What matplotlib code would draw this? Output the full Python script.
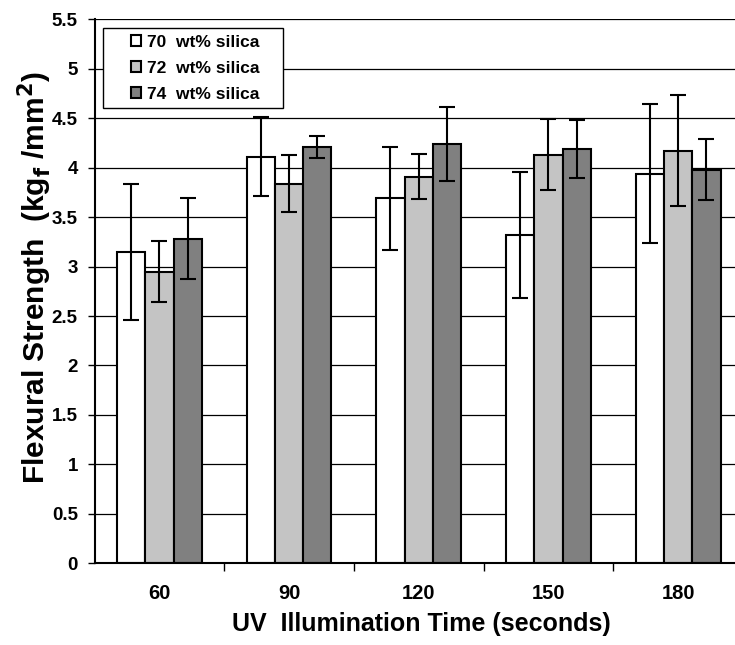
import numpy as np
import matplotlib
matplotlib.use("Agg")
from matplotlib import pyplot as plt
from matplotlib.patches import Rectangle

times = ["60", "90", "120", "150", "180"]
series = ["70  wt% silica", "72  wt% silica", "74  wt% silica"]
means = [
    [3.15, 4.11, 3.69, 3.32, 3.94],   # 70 wt%
    [2.95, 3.84, 3.91, 4.13, 4.17],   # 72 wt%
    [3.28, 4.21, 4.24, 4.19, 3.98],   # 74 wt%
]
errs = [
    [0.69, 0.40, 0.52, 0.64, 0.70],
    [0.31, 0.29, 0.23, 0.36, 0.56],
    [0.41, 0.11, 0.375, 0.29, 0.31],
]
colors = ["#ffffff", "#c4c4c4", "#808080"]

plt.rcParams["font.family"] = ["Liberation Sans", "DejaVu Sans"]
plt.rcParams["font.weight"] = "bold"
plt.rcParams["mathtext.default"] = "bf"

fig = plt.figure(figsize=(7.35, 6.45), dpi=100)
# the original plot area runs a little past the right edge of the image
ax = fig.add_axes([0.1286, 0.1267, 0.8823, 0.8433])

x = np.arange(len(times))
w = 0.218
for i in range(3):
    ax.bar(x + (i - 1) * w, means[i], w, color=colors[i], edgecolor="black",
           linewidth=1.5, label=series[i], zorder=2,
           yerr=errs[i], error_kw=dict(ecolor="black", elinewidth=1.5,
                                       capsize=6, capthick=1.5, zorder=3))

ax.set_ylim(0, 5.5)
ax.set_xlim(-0.5, len(times) - 0.5)
ax.set_yticks(np.arange(0, 5.51, 0.5))
ax.set_yticklabels(["0", "0.5", "1", "1.5", "2", "2.5", "3", "3.5", "4", "4.5", "5", "5.5"],
                   fontsize=13.5, fontweight="bold")
ax.yaxis.grid(True, color="black", linewidth=0.9, zorder=0)
ax.set_axisbelow(True)

ax.set_xticks(x)
ax.set_xticklabels(times, fontsize=14.5, fontweight="bold")
ax.tick_params(axis="x", which="major", length=0, pad=15)
ax.set_xticks(np.arange(0.5, len(times) - 0.5, 1), minor=True)
ax.tick_params(axis="x", which="minor", length=6, width=1, direction="out")
ax.tick_params(axis="y", length=5, width=1, direction="out", pad=7)

for side in ["top", "right"]:
    ax.spines[side].set_visible(False)
ax.spines["left"].set_linewidth(1.5)
ax.spines["bottom"].set_linewidth(1.5)

ax.set_xlabel("UV  Illumination Time (seconds)", fontsize=18, fontweight="bold")
ax.xaxis.set_label_coords(0.504, -0.09)
ax.set_ylabel(r"Flexural Strength  (kg$_f$ /mm$^2$)", fontsize=21.5, fontweight="bold")
ax.yaxis.set_label_coords(-0.062, 0.5255)

# legend frame drawn separately to get the wide Excel-like box
frame = Rectangle((103 / 735, 1 - 108 / 645), 180 / 735, 80 / 645,
                  transform=fig.transFigure, facecolor="white",
                  edgecolor="black", linewidth=1, zorder=5, clip_on=False)
ax.add_artist(frame)
leg = ax.legend(loc="upper left", bbox_to_anchor=(131 / 735, 1 - 35 / 645),
                bbox_transform=fig.transFigure, fontsize=12.5, frameon=False,
                handlelength=0.6, handleheight=0.6, handletextpad=0.3,
                borderpad=0, borderaxespad=0, labelspacing=0.63)
leg.set_zorder(6)
for t in leg.get_texts():
    t.set_fontweight("bold")

fig.savefig("out.png", dpi=100)
